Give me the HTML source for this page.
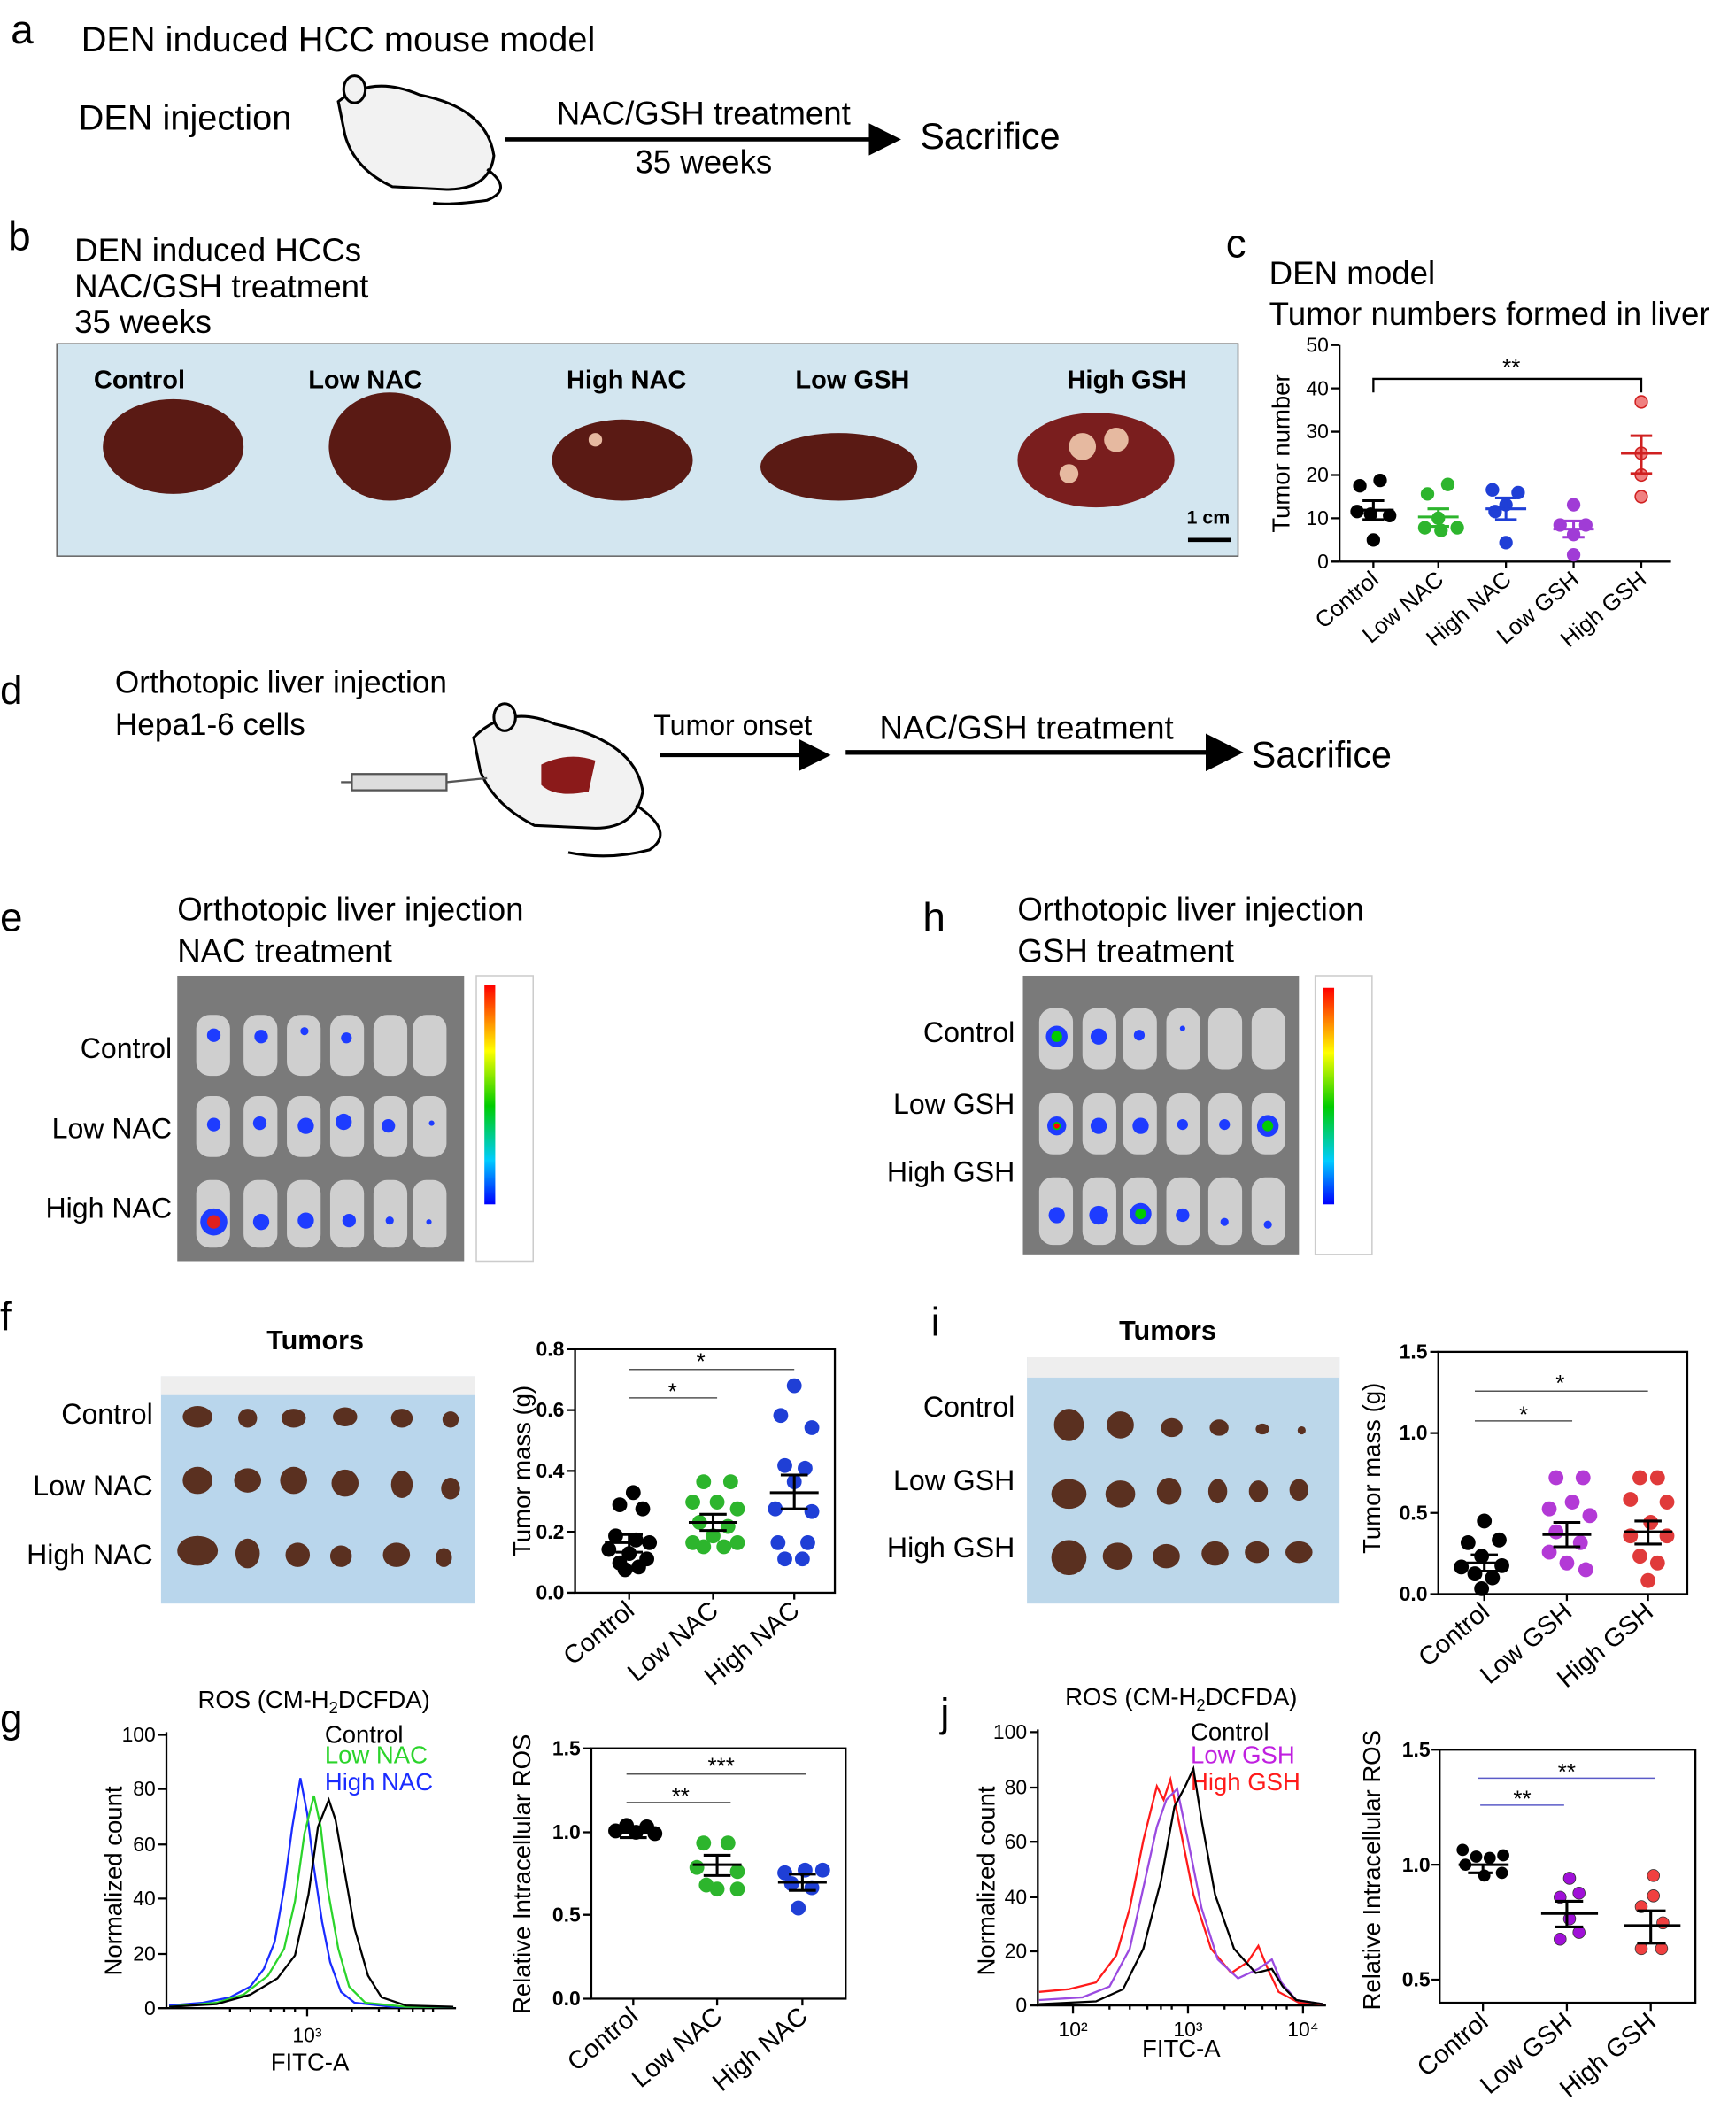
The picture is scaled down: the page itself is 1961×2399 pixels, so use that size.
<!DOCTYPE html>
<html><head><meta charset="utf-8"><style>
html,body{margin:0;padding:0;background:#fff}
svg{display:block}
text{font-family:"Liberation Sans",Arial,sans-serif;fill:#000}
</style></head><body>
<svg width="1961" height="2399" viewBox="0 0 1283 1569.6" xmlns="http://www.w3.org/2000/svg">
<defs>
<marker id="ah" markerWidth="8" markerHeight="8" refX="6" refY="4" orient="auto"><path d="M0,0 L8,4 L0,8 z" fill="#000"/></marker>
</defs>
<!-- a -->
<text x="8" y="32" font-size="30">a</text>
<text x="60" y="38" font-size="26">DEN induced HCC mouse model</text>
<text x="58" y="96" font-size="26">DEN injection</text>
<g fill="#f2f2f2" stroke="#000" stroke-width="2">
<path d="M250,75 Q275,55 310,70 Q360,80 365,115 Q362,140 330,140 L290,138 Q262,125 255,100 Z"/>
<path d="M360,125 Q380,140 360,148 Q330,152 320,150" fill="none"/>
<ellipse cx="262" cy="66" rx="8" ry="10"/>
</g>
<line x1="373" y1="103" x2="660" y2="103" stroke="#000" stroke-width="3" marker-end="url(#ah)"/>
<text x="520" y="92" font-size="24" text-anchor="middle">NAC/GSH treatment</text>
<text x="520" y="128" font-size="24" text-anchor="middle">35 weeks</text>
<text x="680" y="110" font-size="27">Sacrifice</text>
<!-- b -->
<text x="6" y="185" font-size="30">b</text>
<text x="55" y="193" font-size="24">DEN induced HCCs</text>
<text x="55" y="220" font-size="24">NAC/GSH treatment</text>
<text x="55" y="246" font-size="24">35 weeks</text>
<rect x="42" y="254" width="873" height="157" fill="#d3e6f0" stroke="#666" stroke-width="1"/>
<g font-size="19" font-weight="bold" text-anchor="middle">
<text x="103" y="287">Control</text><text x="270" y="287">Low NAC</text><text x="463" y="287">High NAC</text><text x="630" y="287">Low GSH</text><text x="833" y="287">High GSH</text></g>
<g fill="#5a1a14">
<ellipse cx="128" cy="330" rx="52" ry="35"/>
<ellipse cx="288" cy="330" rx="45" ry="40"/>
<ellipse cx="460" cy="340" rx="52" ry="30"/>
<ellipse cx="620" cy="345" rx="58" ry="25"/>
<ellipse cx="810" cy="340" rx="58" ry="35" fill="#7a1e1e"/>
</g>
<g fill="#e6b9a0"><circle cx="800" cy="330" r="10"/><circle cx="825" cy="325" r="9"/><circle cx="790" cy="350" r="7"/><circle cx="440" cy="325" r="5"/></g>
<text x="893" y="387" font-size="14" font-weight="bold" text-anchor="middle">1 cm</text>
<line x1="878" y1="399" x2="910" y2="399" stroke="#000" stroke-width="3"/>
<!-- c -->
<text x="906" y="190" font-size="30">c</text>
<text x="938" y="210" font-size="24">DEN model</text>
<text x="938" y="240" font-size="24">Tumor numbers formed in liver</text>
<g stroke="#000" stroke-width="1.5" fill="none">
<line x1="990" y1="255" x2="990" y2="415"/><line x1="990" y1="415" x2="1235" y2="415"/>
<path d="M984,255h6M984,287h6M984,319h6M984,351h6M984,383h6M984,415h6"/>
<path d="M1015,415v5M1063,415v5M1113,415v5M1163,415v5M1213,415v5"/>
<path d="M1015,290v-10h198v10"/>
</g>
<g font-size="15" text-anchor="end"><text x="982" y="260">50</text><text x="982" y="292">40</text><text x="982" y="324">30</text><text x="982" y="356">20</text><text x="982" y="388">10</text><text x="982" y="420">0</text></g>
<text x="1117" y="277" font-size="17" text-anchor="middle">**</text>
<text transform="translate(953,335) rotate(-90)" font-size="18" text-anchor="middle">Tumor number</text>
<g font-size="17" text-anchor="end">
<text transform="translate(1020,430) rotate(-40)">Control</text>
<text transform="translate(1068,430) rotate(-40)">Low NAC</text>
<text transform="translate(1118,430) rotate(-40)">High NAC</text>
<text transform="translate(1168,430) rotate(-40)">Low GSH</text>
<text transform="translate(1218,430) rotate(-40)">High GSH</text></g>
<g fill="#000"><circle cx="1005" cy="359" r="5"/><circle cx="1020" cy="355" r="5"/><circle cx="1003" cy="378" r="5"/><circle cx="1027" cy="381" r="5"/><circle cx="1013" cy="380" r="5"/><circle cx="1015" cy="399" r="5"/></g>
<g fill="#2db52d"><circle cx="1055" cy="365" r="5"/><circle cx="1070" cy="358" r="5"/><circle cx="1063" cy="383" r="5"/><circle cx="1053" cy="390" r="5"/><circle cx="1065" cy="392" r="5"/><circle cx="1077" cy="390" r="5"/></g>
<g fill="#1f3fd6"><circle cx="1103" cy="362" r="5"/><circle cx="1122" cy="364" r="5"/><circle cx="1113" cy="373" r="5"/><circle cx="1105" cy="378" r="5"/><circle cx="1113" cy="401" r="5"/></g>
<g fill="#a03cd6"><circle cx="1163" cy="373" r="5"/><circle cx="1153" cy="388" r="5"/><circle cx="1172" cy="388" r="5"/><circle cx="1163" cy="395" r="5"/><circle cx="1163" cy="410" r="5"/></g>
<g fill="#f08080" stroke="#d02020"><circle cx="1213" cy="297" r="4.5"/><circle cx="1213" cy="335" r="4.5"/><circle cx="1213" cy="351" r="4.5"/><circle cx="1213" cy="367" r="4.5"/></g>
<g stroke-width="2" fill="none">
<path d="M1000,377h30M1007,370h16M1007,384h16M1015,370v14" stroke="#000"/>
<path d="M1048,382h30M1055,376h16M1055,389h16M1063,376v13" stroke="#2db52d"/>
<path d="M1098,376h30M1105,368h16M1105,384h16M1113,368v16" stroke="#1f3fd6"/>
<path d="M1148,391h30M1155,385h16M1155,397h16M1163,385v12" stroke="#a03cd6"/>
<path d="M1198,335h30M1205,322h16M1205,350h16M1213,322v28" stroke="#d02020"/>
</g>
<!-- d -->
<text x="0" y="520" font-size="30">d</text>
<text x="85" y="512" font-size="23">Orthotopic liver injection</text>
<text x="85" y="543" font-size="23">Hepa1-6 cells</text>
<g fill="#f2f2f2" stroke="#000" stroke-width="2">
<path d="M350,545 Q375,520 410,535 Q470,548 475,585 Q470,612 440,612 L395,610 Q365,595 355,570 Z"/>
<path d="M470,595 Q500,615 480,628 Q450,636 420,630" fill="none"/>
<ellipse cx="373" cy="530" rx="8" ry="10"/>
</g>
<path d="M400,565 Q420,555 440,562 L435,585 Q410,590 400,580 Z" fill="#8b1a1a"/>
<g stroke="#555" stroke-width="1.5" fill="#ddd"><rect x="260" y="572" width="70" height="12"/><line x1="252" y1="578" x2="260" y2="578"/><line x1="330" y1="578" x2="360" y2="575"/></g>
<line x1="488" y1="558" x2="608" y2="558" stroke="#000" stroke-width="3" marker-end="url(#ah)"/>
<text x="483" y="543" font-size="21">Tumor onset</text>
<line x1="625" y1="556" x2="912" y2="556" stroke="#000" stroke-width="3.5" marker-end="url(#ah)"/>
<text x="650" y="546" font-size="24">NAC/GSH treatment</text>
<text x="925" y="567" font-size="27">Sacrifice</text>
<!-- e -->
<text x="0" y="688" font-size="30">e</text>
<text x="131" y="680" font-size="24">Orthotopic liver injection</text>
<text x="131" y="711" font-size="24">NAC treatment</text>
<rect x="131" y="721" width="212" height="211" fill="#7a7a7a"/>
<g fill="#cfcfcf"><rect x="145" y="750" width="25" height="45" rx="10"/><rect x="180" y="750" width="25" height="45" rx="10"/><rect x="212" y="750" width="25" height="45" rx="10"/><rect x="244" y="750" width="25" height="45" rx="10"/><rect x="276" y="750" width="25" height="45" rx="10"/><rect x="305" y="750" width="25" height="45" rx="10"/>
<rect x="145" y="810" width="25" height="45" rx="10"/><rect x="180" y="810" width="25" height="45" rx="10"/><rect x="212" y="810" width="25" height="45" rx="10"/><rect x="244" y="810" width="25" height="45" rx="10"/><rect x="276" y="810" width="25" height="45" rx="10"/><rect x="305" y="810" width="25" height="45" rx="10"/>
<rect x="145" y="872" width="25" height="50" rx="10"/><rect x="180" y="872" width="25" height="50" rx="10"/><rect x="212" y="872" width="25" height="50" rx="10"/><rect x="244" y="872" width="25" height="50" rx="10"/><rect x="276" y="872" width="25" height="50" rx="10"/><rect x="305" y="872" width="25" height="50" rx="10"/></g>
<g fill="#1e3cff"><circle cx="158" cy="765" r="5"/><circle cx="193" cy="766" r="5"/><circle cx="225" cy="762" r="3"/><circle cx="256" cy="767" r="4"/><circle cx="158" cy="831" r="5"/><circle cx="192" cy="830" r="5"/><circle cx="226" cy="832" r="6"/><circle cx="254" cy="829" r="6"/><circle cx="287" cy="832" r="5"/><circle cx="319" cy="830" r="2"/><circle cx="158" cy="903" r="10"/><circle cx="193" cy="903" r="6"/><circle cx="226" cy="902" r="6"/><circle cx="258" cy="902" r="5"/><circle cx="288" cy="902" r="3"/><circle cx="317" cy="903" r="2"/></g>
<circle cx="158" cy="903" r="5" fill="#e02020"/>
<g font-size="21" text-anchor="end"><text x="127" y="782">Control</text><text x="127" y="841">Low NAC</text><text x="127" y="900">High NAC</text></g>
<defs><linearGradient id="cb" x1="0" y1="0" x2="0" y2="1"><stop offset="0" stop-color="#f00"/><stop offset=".3" stop-color="#ff0"/><stop offset=".55" stop-color="#0c0"/><stop offset=".8" stop-color="#0cf"/><stop offset="1" stop-color="#00f"/></linearGradient></defs>
<rect x="352" y="721" width="42" height="211" fill="#fff" stroke="#ccc"/>
<rect x="358" y="728" width="8" height="162" fill="url(#cb)"/>
<!-- h -->
<text x="682" y="688" font-size="30">h</text>
<text x="752" y="680" font-size="24">Orthotopic liver injection</text>
<text x="752" y="711" font-size="24">GSH treatment</text>
<rect x="756" y="721" width="204" height="206" fill="#7a7a7a"/>
<g fill="#cfcfcf"><rect x="768" y="745" width="25" height="45" rx="10"/><rect x="800" y="745" width="25" height="45" rx="10"/><rect x="830" y="745" width="25" height="45" rx="10"/><rect x="862" y="745" width="25" height="45" rx="10"/><rect x="893" y="745" width="25" height="45" rx="10"/><rect x="925" y="745" width="25" height="45" rx="10"/>
<rect x="768" y="808" width="25" height="45" rx="10"/><rect x="800" y="808" width="25" height="45" rx="10"/><rect x="830" y="808" width="25" height="45" rx="10"/><rect x="862" y="808" width="25" height="45" rx="10"/><rect x="893" y="808" width="25" height="45" rx="10"/><rect x="925" y="808" width="25" height="45" rx="10"/>
<rect x="768" y="870" width="25" height="50" rx="10"/><rect x="800" y="870" width="25" height="50" rx="10"/><rect x="830" y="870" width="25" height="50" rx="10"/><rect x="862" y="870" width="25" height="50" rx="10"/><rect x="893" y="870" width="25" height="50" rx="10"/><rect x="925" y="870" width="25" height="50" rx="10"/></g>
<g fill="#1e3cff"><circle cx="781" cy="766" r="8"/><circle cx="812" cy="766" r="6"/><circle cx="842" cy="765" r="4"/><circle cx="874" cy="760" r="2"/><circle cx="781" cy="832" r="7"/><circle cx="812" cy="832" r="6"/><circle cx="843" cy="832" r="6"/><circle cx="874" cy="831" r="4"/><circle cx="905" cy="831" r="4"/><circle cx="937" cy="832" r="8"/><circle cx="781" cy="898" r="6"/><circle cx="812" cy="898" r="7"/><circle cx="843" cy="897" r="8"/><circle cx="874" cy="898" r="5"/><circle cx="905" cy="903" r="3"/><circle cx="937" cy="905" r="3"/></g>
<g fill="#0c0"><circle cx="781" cy="766" r="4"/><circle cx="781" cy="832" r="3"/><circle cx="937" cy="832" r="4"/><circle cx="843" cy="897" r="4"/></g>
<circle cx="781" cy="832" r="2" fill="#f00"/>
<g font-size="21" text-anchor="end"><text x="750" y="770">Control</text><text x="750" y="823">Low GSH</text><text x="750" y="873">High GSH</text></g>
<rect x="972" y="721" width="42" height="206" fill="#fff" stroke="#ccc"/>
<rect x="978" y="730" width="8" height="160" fill="url(#cb)"/>
<!-- f -->
<text x="0" y="983" font-size="30">f</text>
<text x="233" y="997" font-size="20" font-weight="bold" text-anchor="middle">Tumors</text>
<rect x="119" y="1017" width="232" height="168" fill="#b9d6ec"/>
<rect x="119" y="1017" width="232" height="14" fill="#eee"/>
<g fill="#5a3020"><ellipse cx="146" cy="1047" rx="11" ry="8"/><ellipse cx="183" cy="1048" rx="7" ry="7"/><ellipse cx="217" cy="1048" rx="9" ry="7"/><ellipse cx="255" cy="1047" rx="9" ry="7"/><ellipse cx="297" cy="1048" rx="8" ry="7"/><ellipse cx="333" cy="1049" rx="6" ry="6"/>
<ellipse cx="146" cy="1094" rx="11" ry="10"/><ellipse cx="183" cy="1094" rx="10" ry="9"/><ellipse cx="217" cy="1094" rx="10" ry="10"/><ellipse cx="255" cy="1096" rx="10" ry="10"/><ellipse cx="297" cy="1097" rx="8" ry="10"/><ellipse cx="333" cy="1100" rx="7" ry="8"/>
<ellipse cx="146" cy="1146" rx="15" ry="11"/><ellipse cx="183" cy="1148" rx="9" ry="11"/><ellipse cx="220" cy="1149" rx="9" ry="9"/><ellipse cx="252" cy="1150" rx="8" ry="8"/><ellipse cx="293" cy="1149" rx="10" ry="9"/><ellipse cx="328" cy="1151" rx="6" ry="7"/></g>
<g font-size="21" text-anchor="end"><text x="113" y="1052">Control</text><text x="113" y="1105">Low NAC</text><text x="113" y="1156">High NAC</text></g>
<rect x="425" y="997" width="192" height="180" fill="none" stroke="#000" stroke-width="1.5"/>
<g stroke="#000" stroke-width="1.5" fill="none"><path d="M419,997h6M419,1042h6M419,1087h6M419,1132h6M419,1177h6M465,1177v5M527,1177v5M587,1177v5"/></g>
<g font-size="15" font-weight="bold" text-anchor="end"><text x="417" y="1002">0.8</text><text x="417" y="1047">0.6</text><text x="417" y="1092">0.4</text><text x="417" y="1137">0.2</text><text x="417" y="1182">0.0</text></g>
<text transform="translate(392,1087) rotate(-90)" font-size="18" text-anchor="middle">Tumor mass (g)</text>
<g stroke="#555" stroke-width="1"><line x1="465" y1="1012" x2="587" y2="1012"/><line x1="465" y1="1033" x2="530" y2="1033"/></g>
<text x="518" y="1012" font-size="17" text-anchor="middle">*</text><text x="497" y="1034" font-size="17" text-anchor="middle">*</text>
<g font-size="19" text-anchor="end"><text transform="translate(470,1192) rotate(-40)">Control</text><text transform="translate(532,1192) rotate(-40)">Low NAC</text><text transform="translate(592,1192) rotate(-40)">High NAC</text></g>
<g fill="#000"><circle cx="468" cy="1103" r="5.5"/><circle cx="458" cy="1112" r="5.5"/><circle cx="475" cy="1115" r="5.5"/><circle cx="455" cy="1135" r="5.5"/><circle cx="470" cy="1138" r="5.5"/><circle cx="480" cy="1140" r="5.5"/><circle cx="450" cy="1145" r="5.5"/><circle cx="465" cy="1148" r="5.5"/><circle cx="478" cy="1152" r="5.5"/><circle cx="458" cy="1155" r="5.5"/><circle cx="472" cy="1158" r="5.5"/><circle cx="462" cy="1160" r="5.5"/></g>
<g fill="#2db52d"><circle cx="520" cy="1095" r="5.5"/><circle cx="540" cy="1095" r="5.5"/><circle cx="512" cy="1110" r="5.5"/><circle cx="530" cy="1110" r="5.5"/><circle cx="545" cy="1115" r="5.5"/><circle cx="517" cy="1125" r="5.5"/><circle cx="538" cy="1128" r="5.5"/><circle cx="527" cy="1135" r="5.5"/><circle cx="512" cy="1140" r="5.5"/><circle cx="545" cy="1140" r="5.5"/><circle cx="520" cy="1143" r="5.5"/><circle cx="535" cy="1143" r="5.5"/></g>
<g fill="#1f3fd6"><circle cx="587" cy="1024" r="5.5"/><circle cx="577" cy="1046" r="5.5"/><circle cx="600" cy="1055" r="5.5"/><circle cx="580" cy="1083" r="5.5"/><circle cx="595" cy="1085" r="5.5"/><circle cx="587" cy="1095" r="5.5"/><circle cx="573" cy="1115" r="5.5"/><circle cx="600" cy="1117" r="5.5"/><circle cx="575" cy="1140" r="5.5"/><circle cx="597" cy="1140" r="5.5"/><circle cx="580" cy="1152" r="5.5"/><circle cx="593" cy="1152" r="5.5"/></g>
<g stroke-width="2" fill="none"><path d="M447,1140h36M455,1134h20M455,1147h20M465,1134v13" stroke="#000"/>
<path d="M509,1125h36M517,1119h20M517,1131h20M527,1119v12" stroke="#000"/>
<path d="M569,1103h36M577,1090h20M577,1115h20M587,1090v25" stroke="#000"/></g>
<!-- i -->
<text x="688" y="987" font-size="30">i</text>
<text x="863" y="990" font-size="20" font-weight="bold" text-anchor="middle">Tumors</text>
<rect x="759" y="1003" width="231" height="182" fill="#bcd7ea"/>
<rect x="759" y="1003" width="231" height="15" fill="#eee"/>
<g fill="#5a3020"><ellipse cx="790" cy="1053" rx="11" ry="12"/><ellipse cx="828" cy="1053" rx="10" ry="10"/><ellipse cx="866" cy="1055" rx="8" ry="7"/><ellipse cx="901" cy="1055" rx="7" ry="6"/><ellipse cx="933" cy="1056" rx="5" ry="4"/><ellipse cx="962" cy="1057" rx="3" ry="3"/>
<ellipse cx="790" cy="1104" rx="13" ry="11"/><ellipse cx="828" cy="1104" rx="11" ry="10"/><ellipse cx="864" cy="1102" rx="9" ry="10"/><ellipse cx="900" cy="1102" rx="7" ry="9"/><ellipse cx="930" cy="1102" rx="7" ry="8"/><ellipse cx="960" cy="1101" rx="7" ry="8"/>
<ellipse cx="790" cy="1151" rx="13" ry="13"/><ellipse cx="826" cy="1150" rx="11" ry="10"/><ellipse cx="862" cy="1150" rx="10" ry="9"/><ellipse cx="898" cy="1148" rx="10" ry="9"/><ellipse cx="929" cy="1147" rx="9" ry="8"/><ellipse cx="960" cy="1147" rx="10" ry="8"/></g>
<g font-size="21" text-anchor="end"><text x="750" y="1047">Control</text><text x="750" y="1101">Low GSH</text><text x="750" y="1151">High GSH</text></g>
<rect x="1063" y="999" width="184" height="179" fill="none" stroke="#000" stroke-width="1.5"/>
<g stroke="#000" stroke-width="1.5" fill="none"><path d="M1057,999h6M1057,1059h6M1057,1118h6M1057,1178h6M1097,1178v5M1158,1178v5M1218,1178v5"/></g>
<g font-size="15" font-weight="bold" text-anchor="end"><text x="1055" y="1004">1.5</text><text x="1055" y="1064">1.0</text><text x="1055" y="1123">0.5</text><text x="1055" y="1183">0.0</text></g>
<text transform="translate(1020,1085) rotate(-90)" font-size="18" text-anchor="middle">Tumor mass (g)</text>
<g stroke="#555" stroke-width="1"><line x1="1090" y1="1028" x2="1218" y2="1028"/><line x1="1090" y1="1050" x2="1162" y2="1050"/></g>
<text x="1153" y="1028" font-size="17" text-anchor="middle">*</text><text x="1126" y="1051" font-size="17" text-anchor="middle">*</text>
<g font-size="19" text-anchor="end"><text transform="translate(1102,1193) rotate(-40)">Control</text><text transform="translate(1163,1193) rotate(-40)">Low GSH</text><text transform="translate(1223,1193) rotate(-40)">High GSH</text></g>
<g fill="#000"><circle cx="1097" cy="1124" r="5.5"/><circle cx="1085" cy="1140" r="5.5"/><circle cx="1108" cy="1138" r="5.5"/><circle cx="1095" cy="1150" r="5.5"/><circle cx="1080" cy="1158" r="5.5"/><circle cx="1110" cy="1157" r="5.5"/><circle cx="1090" cy="1163" r="5.5"/><circle cx="1103" cy="1166" r="5.5"/><circle cx="1095" cy="1174" r="5.5"/></g>
<g fill="#b33ad6"><circle cx="1150" cy="1092" r="5.5"/><circle cx="1170" cy="1092" r="5.5"/><circle cx="1145" cy="1115" r="5.5"/><circle cx="1162" cy="1110" r="5.5"/><circle cx="1175" cy="1120" r="5.5"/><circle cx="1150" cy="1132" r="5.5"/><circle cx="1168" cy="1140" r="5.5"/><circle cx="1145" cy="1147" r="5.5"/><circle cx="1158" cy="1155" r="5.5"/><circle cx="1172" cy="1160" r="5.5"/></g>
<g fill="#e03a3a"><circle cx="1212" cy="1092" r="5.5"/><circle cx="1225" cy="1092" r="5.5"/><circle cx="1205" cy="1108" r="5.5"/><circle cx="1232" cy="1110" r="5.5"/><circle cx="1220" cy="1125" r="5.5"/><circle cx="1205" cy="1135" r="5.5"/><circle cx="1232" cy="1135" r="5.5"/><circle cx="1212" cy="1150" r="5.5"/><circle cx="1225" cy="1155" r="5.5"/><circle cx="1218" cy="1168" r="5.5"/></g>
<g stroke-width="2" fill="none"><path d="M1079,1155h36M1087,1149h20M1087,1161h20M1097,1149v12" stroke="#000"/>
<path d="M1140,1134h36M1148,1125h20M1148,1143h20M1158,1125v18" stroke="#000"/>
<path d="M1200,1132h36M1208,1124h20M1208,1141h20M1218,1124v17" stroke="#000"/></g>
<!-- g -->
<text x="0" y="1280" font-size="30">g</text>
<text x="232" y="1262" font-size="18" text-anchor="middle">ROS (CM-H<tspan font-size="12" dy="4">2</tspan><tspan dy="-4">DCFDA)</tspan></text>
<g stroke="#000" stroke-width="1.5" fill="none"><path d="M123,1280V1484H337"/><path d="M117,1282h6M117,1322h6M117,1363h6M117,1403h6M117,1444h6M117,1484h6M227,1484v6M170,1484v3M185,1484v3M200,1484v3M210,1484v3M218,1484v3M260,1484v3M280,1484v3M295,1484v3M305,1484v3M313,1484v3M320,1484v3"/></g>
<g font-size="15" text-anchor="end"><text x="115" y="1287">100</text><text x="115" y="1327">80</text><text x="115" y="1368">60</text><text x="115" y="1408">40</text><text x="115" y="1449">20</text><text x="115" y="1489">0</text></g>
<text x="227" y="1509" font-size="15" text-anchor="middle">10³</text>
<text x="229" y="1530" font-size="18" text-anchor="middle">FITC-A</text>
<text transform="translate(90,1390) rotate(-90)" font-size="18" text-anchor="middle">Normalized count</text>
<text x="240" y="1288" font-size="18">Control</text>
<text x="240" y="1303" font-size="18" style="fill:#2bd42b">Low NAC</text>
<text x="240" y="1323" font-size="18" style="fill:#1a2cff">High NAC</text>
<polyline fill="none" stroke="#1a2cff" stroke-width="1.5" points="125,1482 150,1480 170,1476 185,1468 195,1455 203,1435 210,1395 216,1350 222,1314 227,1340 232,1380 238,1420 244,1450 252,1472 262,1480 290,1483 335,1483"/>
<polyline fill="none" stroke="#2bd42b" stroke-width="1.5" points="125,1483 160,1480 180,1474 198,1460 210,1440 218,1405 225,1355 232,1327 237,1350 242,1395 250,1440 258,1468 270,1480 300,1483 335,1483"/>
<polyline fill="none" stroke="#000" stroke-width="1.5" points="125,1483 160,1481 185,1474 205,1462 218,1445 228,1400 235,1350 243,1330 248,1345 255,1385 262,1425 272,1460 282,1476 300,1482 335,1483"/>
<rect x="437" y="1292" width="188" height="185" fill="none" stroke="#000" stroke-width="1.5"/>
<g stroke="#000" stroke-width="1.5" fill="none"><path d="M431,1292h6M431,1354h6M431,1415h6M431,1477h6M468,1477v5M530,1477v5M593,1477v5"/></g>
<g font-size="15" font-weight="bold" text-anchor="end"><text x="429" y="1297">1.5</text><text x="429" y="1359">1.0</text><text x="429" y="1420">0.5</text><text x="429" y="1482">0.0</text></g>
<text transform="translate(392,1385) rotate(-90)" font-size="18" text-anchor="middle">Relative Intracellular ROS</text>
<g stroke="#555" stroke-width="1"><line x1="463" y1="1311" x2="596" y2="1311"/><line x1="463" y1="1332" x2="540" y2="1332"/></g>
<text x="533" y="1311" font-size="17" text-anchor="middle">***</text><text x="503" y="1333" font-size="17" text-anchor="middle">**</text>
<g font-size="19" text-anchor="end"><text transform="translate(473,1492) rotate(-40)">Control</text><text transform="translate(535,1492) rotate(-40)">Low NAC</text><text transform="translate(598,1492) rotate(-40)">High NAC</text></g>
<g fill="#000"><circle cx="455" cy="1353" r="5.5"/><circle cx="463" cy="1349" r="5.5"/><circle cx="470" cy="1354" r="5.5"/><circle cx="478" cy="1350" r="5.5"/><circle cx="484" cy="1355" r="5.5"/></g>
<g fill="#2db52d"><circle cx="520" cy="1362" r="5.5"/><circle cx="538" cy="1362" r="5.5"/><circle cx="515" cy="1380" r="5.5"/><circle cx="545" cy="1383" r="5.5"/><circle cx="522" cy="1393" r="5.5"/><circle cx="530" cy="1396" r="5.5"/><circle cx="545" cy="1396" r="5.5"/></g>
<g fill="#1f3fd6"><circle cx="580" cy="1384" r="5.5"/><circle cx="595" cy="1382" r="5.5"/><circle cx="608" cy="1382" r="5.5"/><circle cx="585" cy="1392" r="5.5"/><circle cx="600" cy="1395" r="5.5"/><circle cx="590" cy="1410" r="5.5"/></g>
<g stroke-width="2" fill="none"><path d="M450,1354h36M458,1350h20M458,1358h20M468,1350v8" stroke="#000"/>
<path d="M512,1378h36M520,1371h20M520,1386h20M530,1371v15" stroke="#000"/>
<path d="M575,1391h36M583,1385h20M583,1397h20M593,1385v12" stroke="#000"/></g>
<!-- j -->
<text x="695" y="1276" font-size="30">j</text>
<text x="873" y="1260" font-size="18" text-anchor="middle">ROS (CM-H<tspan font-size="12" dy="4">2</tspan><tspan dy="-4">DCFDA)</tspan></text>
<g stroke="#000" stroke-width="1.5" fill="none"><path d="M767,1278V1482H980"/><path d="M761,1280h6M761,1321h6M761,1361h6M761,1402h6M761,1442h6M761,1482h6M793,1482v6M878,1482v6M963,1482v6M820,1482v3M835,1482v3M848,1482v3M858,1482v3M866,1482v3M905,1482v3M920,1482v3M933,1482v3M943,1482v3M951,1482v3"/></g>
<g font-size="15" text-anchor="end"><text x="759" y="1285">100</text><text x="759" y="1326">80</text><text x="759" y="1366">60</text><text x="759" y="1407">40</text><text x="759" y="1447">20</text><text x="759" y="1487">0</text></g>
<g font-size="15" text-anchor="middle"><text x="793" y="1505">10²</text><text x="878" y="1505">10³</text><text x="963" y="1505">10⁴</text></g>
<text x="873" y="1520" font-size="18" text-anchor="middle">FITC-A</text>
<text transform="translate(735,1390) rotate(-90)" font-size="18" text-anchor="middle">Normalized count</text>
<text x="880" y="1286" font-size="18">Control</text>
<text x="880" y="1303" font-size="18" style="fill:#c020e0">Low GSH</text>
<text x="880" y="1323" font-size="18" style="fill:#ff1a1a">High GSH</text>
<polyline fill="none" stroke="#ff1a1a" stroke-width="1.5" points="768,1472 790,1470 810,1465 825,1445 835,1410 845,1360 855,1320 860,1330 865,1315 872,1350 882,1400 895,1440 910,1458 922,1450 930,1438 937,1455 945,1472 960,1480 978,1481"/>
<polyline fill="none" stroke="#9a4ae0" stroke-width="1.5" points="768,1478 800,1476 820,1468 835,1440 845,1395 855,1350 862,1330 870,1322 878,1360 888,1410 900,1448 915,1462 930,1455 940,1448 947,1465 958,1478 978,1481"/>
<polyline fill="none" stroke="#000" stroke-width="1.5" points="768,1481 810,1479 830,1470 845,1440 858,1390 868,1335 876,1320 882,1307 888,1345 898,1400 912,1440 928,1458 940,1455 948,1468 958,1478 978,1481"/>
<rect x="1064" y="1293" width="189" height="187" fill="none" stroke="#000" stroke-width="1.5"/>
<g stroke="#000" stroke-width="1.5" fill="none"><path d="M1058,1293h6M1058,1378h6M1058,1463h6M1096,1480v6M1158,1480v6M1220,1480v6"/></g>
<g font-size="15" font-weight="bold" text-anchor="end"><text x="1057" y="1298">1.5</text><text x="1057" y="1383">1.0</text><text x="1057" y="1468">0.5</text></g>
<text transform="translate(1020,1382) rotate(-90)" font-size="18" text-anchor="middle">Relative Intracellular ROS</text>
<g stroke="#5b5bc8" stroke-width="1"><line x1="1092" y1="1314" x2="1223" y2="1314"/><line x1="1094" y1="1334" x2="1156" y2="1334"/></g>
<text x="1158" y="1315" font-size="17" text-anchor="middle">**</text><text x="1125" y="1335" font-size="17" text-anchor="middle">**</text>
<g font-size="19" text-anchor="end"><text transform="translate(1101,1496) rotate(-40)">Control</text><text transform="translate(1163,1496) rotate(-40)">Low GSH</text><text transform="translate(1225,1496) rotate(-40)">High GSH</text></g>
<g fill="#000"><circle cx="1081" cy="1367" r="4.5"/><circle cx="1091" cy="1372" r="4.5"/><circle cx="1101" cy="1373" r="4.5"/><circle cx="1111" cy="1371" r="4.5"/><circle cx="1083" cy="1378" r="4.5"/><circle cx="1097" cy="1386" r="4.5"/><circle cx="1110" cy="1384" r="4.5"/></g>
<g fill="#a010d8" stroke="#333" stroke-width="0.5"><circle cx="1160" cy="1388" r="4.5"/><circle cx="1167" cy="1399" r="4.5"/><circle cx="1153" cy="1402" r="4.5"/><circle cx="1160" cy="1418" r="4.5"/><circle cx="1167" cy="1428" r="4.5"/><circle cx="1153" cy="1433" r="4.5"/></g>
<g fill="#f04040" stroke="#333" stroke-width="0.5"><circle cx="1222" cy="1386" r="4.5"/><circle cx="1222" cy="1401" r="4.5"/><circle cx="1213" cy="1409" r="4.5"/><circle cx="1229" cy="1421" r="4.5"/><circle cx="1213" cy="1440" r="4.5"/><circle cx="1228" cy="1440" r="4.5"/></g>
<g stroke-width="2" fill="none"><path d="M1078,1378h37M1085,1384h18M1096,1378v6" stroke="#000"/>
<path d="M1139,1414h42M1149,1405h21M1149,1424h21M1158,1405v19" stroke="#000"/>
<path d="M1200,1423h42M1210,1412h21M1210,1436h21M1220,1412v24" stroke="#000"/></g>
</svg>
</body></html>
